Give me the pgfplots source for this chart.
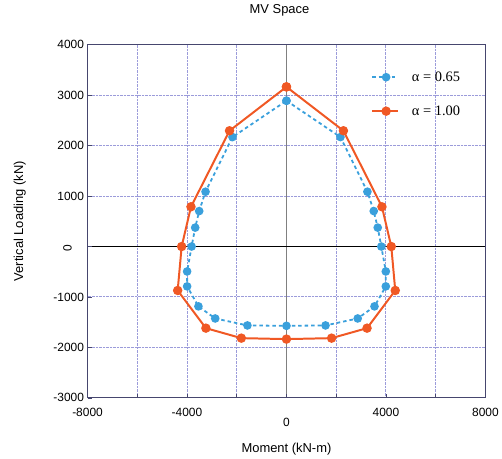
\documentclass[border=0pt]{standalone}
\usepackage{fontspec}
\setmainfont{Liberation Sans}
\newfontfamily\tnr{Liberation Serif}
\usepackage{pgfplots}
\pgfplotsset{compat=1.18}
\definecolor{cblue}{RGB}{58,160,220}
\definecolor{corange}{RGB}{240,88,36}
\definecolor{gridc}{RGB}{155,155,218}
\definecolor{framec}{RGB}{70,70,110}
\begin{document}
\begin{tikzpicture}
\begin{axis}[name=ax, scale only axis, width=400pt, height=355pt,
  xmin=-8000, xmax=8000, ymin=-3000, ymax=4000,
  xtick={-8000,-6000,-4000,-2000,2000,4000,6000,8000},
  xticklabels={-8000,,-4000,,,4000,,8000},
  ytick={-3000,-2000,-1000,1000,2000,3000,4000},
  yticklabels={-3000,-2000,-1000,1000,2000,3000,4000},
  extra x ticks={0}, extra x tick labels={0},
  extra y ticks={0}, extra y tick labels={0},
  extra x tick style={grid=major, major grid style={gray, line width=1.3pt, solid},
     tick label style={anchor=center, yshift=-18pt}},
  extra y tick style={grid=major, major grid style={black, line width=0.7pt, solid},
     tick label style={anchor=center, xshift=-20pt, yshift=-2pt, rotate=90}},
  grid=major, major grid style={gridc, dash pattern=on 1pt off 0.4pt, line width=1pt},
  tick align=inside, major tick length=4pt, tick style={framec, line width=0.7pt, solid},
  xtick pos=bottom, ytick pos=left,
  axis line style={framec, line width=0.9pt},
  tick label style={font=\fontsize{12}{14}\selectfont},
  x tick label style={yshift=-7pt},
  label style={font=\fontsize{13}{15}\selectfont},
  xlabel={Moment (kN-m)}, ylabel={Vertical Loading (kN)},
  xlabel style={at={(axis description cs:0.5,-0.1465)}, anchor=center},
  ylabel style={at={(axis description cs:-0.17,0.5)}, anchor=center},
  title={MV Space},
  title style={at={(axis description cs:0.4825,1.082)}, anchor=center, font=\fontsize{13}{15}\selectfont},
  legend style={draw=none, fill=none, at={(axis description cs:0.7125,0.93)}, anchor=north west,
     font=\tnr\fontsize{14.5}{16}\selectfont, row sep=19pt, column sep=11pt, inner sep=0pt},
  legend cell align=left,
  legend image code/.code={\draw[#1] (0pt,0pt) -- (26pt,0pt); \draw[#1, mark repeat=1] plot coordinates {(14pt,0pt)};},
]
\addplot[cblue, line width=1.8pt, dash pattern=on 3.5pt off 3pt, mark=*, mark size=3.4pt, mark options={solid}]
coordinates {
(0,2890) (2170,2170) (3255,1087) (3510,703) (3670,375) (3815,0) (3995,-494) (3995,-790)
(3540,-1186) (2865,-1426) (1570,-1564) (0,-1572) (-1570,-1564) (-2865,-1426) (-3540,-1186)
(-3995,-790) (-3995,-494) (-3815,0) (-3670,375) (-3510,703) (-3255,1087) (-2170,2170) (0,2890)
};
\addlegendentry{α = 0.65}
\addplot[corange, line width=2pt, mark=*, mark size=3.7pt]
coordinates {
(0,3165) (2290,2295) (3840,788) (4215,0) (4375,-871) (3240,-1618) (1815,-1816) (0,-1835)
(-1815,-1816) (-3240,-1618) (-4375,-871) (-4215,0) (-3840,788) (-2290,2295) (0,3165)
};
\addlegendentry{α = 1.00}
\end{axis}
\path[use as bounding box] ([shift={(-88pt,-61pt)}]ax.south west) rectangle ([shift={(14pt,45pt)}]ax.north east);
\end{tikzpicture}
\end{document}
